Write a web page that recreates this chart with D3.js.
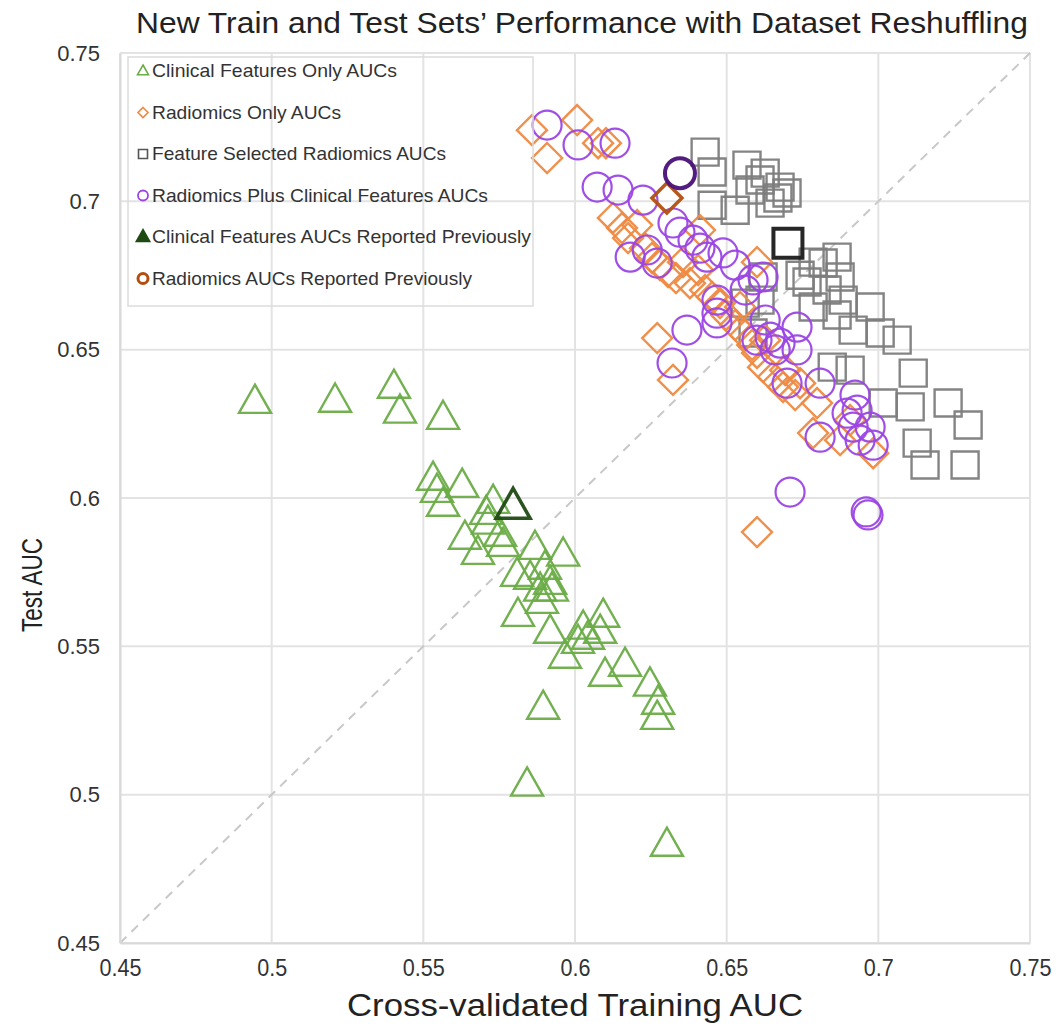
<!DOCTYPE html>
<html><head><meta charset="utf-8">
<script src="https://cdn.jsdelivr.net/npm/d3@7/dist/d3.min.js"></script>
<style>body{margin:0;background:#fff}svg{display:block;font-family:"Liberation Sans",Arial,sans-serif}</style>
</head><body>
<svg id="c" width="1063" height="1029"></svg>
<script>
// ---- data (x = cross-validated training AUC, y = test AUC) ----
const clinicalX = [0.4945,0.5209,0.5403,0.5423,0.5565,0.5532,0.5545,0.5565,0.5628,0.5730,0.5707,0.5637,0.5680,0.5713,0.5763,0.5753,0.5868,0.5961,0.5809,0.5852,0.5885,0.5918,0.5924,0.5891,0.5812,0.5918,0.6027,0.6093,0.6083,0.6010,0.5967,0.6099,0.6165,0.6247,0.6274,0.6271,0.5895,0.5842,0.6303,0.5901,0.6043];
const clinicalY = [0.6323,0.6327,0.6374,0.6290,0.6269,0.6064,0.6023,0.5976,0.6040,0.5986,0.5949,0.5865,0.5814,0.5916,0.5841,0.5875,0.5831,0.5808,0.5740,0.5730,0.5690,0.5713,0.5690,0.5649,0.5605,0.5548,0.5562,0.5602,0.5548,0.5514,0.5464,0.5403,0.5437,0.5370,0.5309,0.5258,0.5292,0.5033,0.4830,0.5764,0.5528];
const radiomicsX = [0.5858,0.6007,0.5908,0.6076,0.6102,0.6125,0.6155,0.6175,0.6205,0.6231,0.6254,0.6280,0.6307,0.6333,0.6356,0.6379,0.6406,0.6429,0.6452,0.6478,0.6544,0.6600,0.6498,0.6528,0.6561,0.6584,0.6600,0.6620,0.6653,0.6686,0.6726,0.6798,0.6785,0.6874,0.6983,0.6907,0.6271,0.6323,0.6600,0.6412,0.6693,0.6742,0.6627];
const radiomicsY = [0.7240,0.7274,0.7146,0.7196,0.7196,0.6944,0.6910,0.6876,0.6920,0.6842,0.6809,0.6785,0.6762,0.6741,0.6795,0.6724,0.6768,0.6701,0.6677,0.6657,0.6644,0.6795,0.6617,0.6583,0.6549,0.6516,0.6489,0.6441,0.6408,0.6374,0.6347,0.6320,0.6219,0.6195,0.6151,0.6263,0.6539,0.6398,0.5885,0.6903,0.6431,0.6387,0.6532];
const selectedX = [0.6429,0.6452,0.6567,0.6627,0.6676,0.6699,0.6577,0.6452,0.6528,0.6643,0.6669,0.6610,0.6864,0.6785,0.6765,0.6874,0.6620,0.6785,0.6884,0.6864,0.6973,0.6917,0.7006,0.7062,0.6587,0.6848,0.6907,0.7115,0.7016,0.7105,0.7230,0.7296,0.7128,0.7154,0.7286,0.6831,0.6610,0.6561,0.6742,0.6818];
const selectedY = [0.7166,0.7099,0.7122,0.7095,0.7048,0.7028,0.7038,0.6987,0.6970,0.6994,0.7011,0.7072,0.6812,0.6795,0.6728,0.6745,0.6745,0.6644,0.6667,0.6617,0.6644,0.6566,0.6556,0.6532,0.6556,0.6441,0.6431,0.6421,0.6320,0.6307,0.6320,0.6246,0.6185,0.6111,0.6111,0.6701,0.6667,0.6657,0.6751,0.6792];
const plusX = [0.5908,0.6010,0.6132,0.6073,0.6142,0.6224,0.6182,0.6271,0.6238,0.6323,0.6346,0.6389,0.6435,0.6488,0.6587,0.6620,0.6468,0.6468,0.6468,0.6369,0.6320,0.6600,0.6643,0.6676,0.6732,0.6732,0.6699,0.6808,0.6897,0.6930,0.6917,0.6973,0.6983,0.6808,0.6709,0.6960,0.6966,0.6412,0.6528,0.6561,0.6627,0.6660,0.6923,0.6940];
const plusY = [0.7257,0.7190,0.7196,0.7048,0.7038,0.7004,0.6812,0.6792,0.6836,0.6927,0.6896,0.6869,0.6812,0.6826,0.6735,0.6745,0.6667,0.6623,0.6590,0.6566,0.6455,0.6532,0.6542,0.6522,0.6576,0.6499,0.6387,0.6387,0.6286,0.6296,0.6239,0.6239,0.6178,0.6205,0.6020,0.5953,0.5943,0.6842,0.6785,0.6701,0.6600,0.6499,0.6347,0.6195];
// previously reported values
const prevClinical = [0.5796, 0.5970];
const prevRadiomicsDiamond = [0.6303, 0.7011];
const prevRadiomicsCircle = [0.6346, 0.7095];
const prevSelected = [0.6702, 0.6859];

const ticks = [0.45,0.5,0.55,0.6,0.65,0.7,0.75];
const tickLabels = ["0.45","0.5","0.55","0.6","0.65","0.7","0.75"];
const legendLabels = ["Clinical Features Only AUCs","Radiomics Only AUCs","Feature Selected Radiomics AUCs","Radiomics Plus Clinical Features AUCs","Clinical Features AUCs Reported Previously","Radiomics AUCs Reported Previously"];
const titleText = "New Train and Test Sets\u2019 Performance with Dataset Reshuffling";
const xTitle = "Cross-validated Training AUC";
const yTitle = "Test AUC";

// ---- layout ----
const L = 120, R = 1030, T = 53, B = 943;
const x = d3.scaleLinear().domain([0.45,0.75]).range([L,R]);
const y = d3.scaleLinear().domain([0.45,0.75]).range([B,T]);
const svg = d3.select("#c");

const C = {green:"#6aac47", orange:"#ee8a43", gray:"#7d7d7d", purple:"#9b45e4",
           dgreen:"#1f4a14", dorange:"#b24f10", dpurple:"#4a1079", black:"#1b1b1b"};

// grid
const g = svg.append("g");
g.selectAll("line.v").data(ticks).join("line")
  .attr("x1",d=>x(d)).attr("x2",d=>x(d)).attr("y1",T).attr("y2",B)
  .attr("stroke","#e3e3e3").attr("stroke-width",2);
g.selectAll("line.h").data(ticks).join("line").attr("class","h")
  .attr("y1",d=>y(d)).attr("y2",d=>y(d)).attr("x1",L).attr("x2",R)
  .attr("stroke","#e3e3e3").attr("stroke-width",2);
// diagonal
svg.append("line").attr("x1",x(0.45)).attr("y1",y(0.45)).attr("x2",x(0.75)).attr("y2",y(0.75))
  .attr("stroke","#c8c8c8").attr("stroke-width",2).attr("stroke-dasharray","9,7");

// axes (tick labels only)
const xAxis = d3.axisBottom(x).tickValues(ticks).tickFormat((d,i)=>tickLabels[i]).tickSize(0).tickPadding(17);
const xa = svg.append("g").attr("transform",`translate(0,${B})`).call(xAxis);
xa.select(".domain").attr("stroke","#d9d9d9").attr("stroke-width",2);
xa.selectAll("text").attr("font-size",23).attr("fill","#333").attr("font-family","Liberation Sans, Arial, sans-serif")
  .attr("textLength",(d,i)=>tickLabels[i].length===4?42:30).attr("lengthAdjust","spacingAndGlyphs");
const yAxis = d3.axisLeft(y).tickValues(ticks).tickFormat((d,i)=>tickLabels[i]).tickSize(0).tickPadding(20);
const ya = svg.append("g").attr("transform",`translate(${L},0)`).call(yAxis);
ya.select(".domain").attr("stroke","#d9d9d9").attr("stroke-width",2);
ya.selectAll("text").attr("font-size",22).attr("fill","#333").attr("font-family","Liberation Sans, Arial, sans-serif");

// marker paths
function tri(s){const h=s*0.88;return `M0,${-h*0.62}L${s/2},${h*0.38}L${-s/2},${h*0.38}Z`;}
function dia(s){const r=s/2;return `M0,${-r}L${r},0L0,${r}L${-r},0Z`;}
function sq(s){const r=s/2;return `M${-r},${-r}H${r}V${r}H${-r}Z`;}
function circ(s){const r=s/2;return `M${r},0A${r},${r} 0 1,1 ${-r},0A${r},${r} 0 1,1 ${r},0Z`;}

function series(xs, ys, path, color, sw){
  svg.append("g").selectAll("path").data(xs.map((v,i)=>[v,ys[i]])).join("path")
    .attr("d",path).attr("transform",d=>`translate(${x(d[0])},${y(d[1])})`)
    .attr("fill","none").attr("stroke",color).attr("stroke-width",sw).attr("stroke-opacity",0.95);
}
series(clinicalX, clinicalY, tri(32), C.green, 2.4);
series(selectedX, selectedY, sq(27), C.gray, 2.4);
series(radiomicsX, radiomicsY, dia(30), C.orange, 2.4);
series(plusX, plusY, circ(29), C.purple, 2.2);
// previously reported
series([prevRadiomicsDiamond[0]],[prevRadiomicsDiamond[1]], dia(30), C.dorange, 3.5);
series([prevClinical[0]],[prevClinical[1]], tri(34), C.dgreen, 3.5);
series([prevRadiomicsCircle[0]],[prevRadiomicsCircle[1]], circ(30), C.dpurple, 4);
series([prevSelected[0]],[prevSelected[1]], sq(29), C.black, 4);

// legend
const lg = svg.append("g");
lg.append("rect").attr("x",128).attr("y",57).attr("width",405).attr("height",249)
  .attr("fill","none").attr("stroke","#dcdcdc").attr("stroke-width",1.5);
const legMarks = [[tri(11),C.green,1.6],[dia(10),C.orange,1.6],[sq(9),"#555",1.6],[circ(10),C.purple,1.8],[tri(11),C.dgreen,3],[circ(10),C.dorange,3]];
const legW = [245,189,294,336,379,320];
legendLabels.forEach((t,i)=>{
  const cy = 71 + i*41.5;
  lg.append("path").attr("d",legMarks[i][0]).attr("transform",`translate(143,${cy})`)
    .attr("fill",i==4?C.dgreen:"none").attr("stroke",legMarks[i][1]).attr("stroke-width",legMarks[i][2]);
  lg.append("text").attr("x",152).attr("y",cy+6).attr("font-size",19).attr("fill","#333")
    .attr("textLength",legW[i]).attr("lengthAdjust","spacingAndGlyphs").text(t);
});

// titles
svg.append("text").attr("x",582).attr("y",33).attr("text-anchor","middle").attr("font-size",30)
  .attr("fill","#222").attr("textLength",892).attr("lengthAdjust","spacingAndGlyphs").text(titleText);
svg.append("text").attr("x",575).attr("y",1016).attr("text-anchor","middle").attr("font-size",31)
  .attr("fill","#222").attr("textLength",456).attr("lengthAdjust","spacingAndGlyphs").text(xTitle);
svg.append("text").attr("transform","translate(42,585) rotate(-90)").attr("text-anchor","middle")
  .attr("font-size",30).attr("fill","#222").attr("textLength",94).attr("lengthAdjust","spacingAndGlyphs").text(yTitle);
</script>
</body></html>
